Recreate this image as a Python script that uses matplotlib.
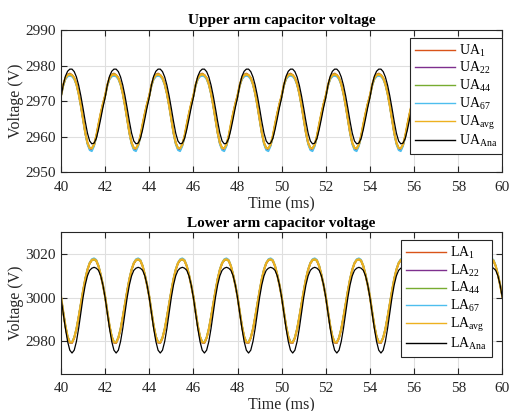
import numpy as np
import matplotlib
matplotlib.use('Agg')
import matplotlib.pyplot as plt

plt.rcParams['font.family'] = 'Liberation Serif'
plt.rcParams['mathtext.fontset'] = 'custom'
plt.rcParams['mathtext.rm'] = 'Liberation Serif'
plt.rcParams['mathtext.it'] = 'Liberation Serif:italic'
plt.rcParams['mathtext.bf'] = 'Liberation Serif:bold'

# ---------------- data (one 2 ms cycle, 0.1 ms steps) ----------------
t_start = 40.0
dt = 0.1
n_cycles = 10

# upper arm
UA_1   = [2971.6, 2974.6, 2976.6, 2977.5, 2977.8, 2977.4, 2976.6, 2974.9, 2972.3, 2968.9,
          2965.0, 2961.1, 2958.2, 2956.8, 2956.5, 2957.7, 2960.1, 2963.4, 2966.5, 2969.3]
UA_22  = [2971.4, 2974.3, 2976.2, 2977.0, 2977.3, 2977.2, 2976.4, 2974.7, 2972.1, 2968.7,
          2964.9, 2961.0, 2958.1, 2956.5, 2956.3, 2957.6, 2960.0, 2963.3, 2966.4, 2969.1]
UA_44  = [2971.5, 2974.5, 2976.4, 2977.4, 2977.6, 2977.3, 2976.5, 2974.8, 2972.2, 2968.8,
          2965.0, 2961.2, 2958.3, 2956.9, 2956.8, 2957.8, 2960.2, 2963.5, 2966.5, 2969.2]
UA_67  = [2971.3, 2974.2, 2976.1, 2976.9, 2977.1, 2976.9, 2976.1, 2974.5, 2971.9, 2968.5,
          2964.6, 2960.8, 2957.8, 2956.2, 2955.9, 2957.3, 2959.8, 2963.1, 2966.2, 2968.9]
UA_avg = [2971.5, 2974.5, 2976.5, 2977.3, 2977.5, 2977.3, 2976.5, 2974.8, 2972.2, 2968.8,
          2965.0, 2961.2, 2958.3, 2956.8, 2956.7, 2957.8, 2960.2, 2963.5, 2966.5, 2969.2]
UA_ana = [2971.0, 2974.5, 2977.0, 2978.4, 2979.0, 2979.0, 2978.3, 2976.8, 2974.5, 2971.5,
          2968.0, 2964.3, 2961.0, 2958.8, 2958.0, 2958.2, 2959.5, 2962.0, 2965.0, 2968.2]

# lower arm
LA_1   = [3000.5, 2993.5, 2987.0, 2982.0, 2979.4, 2979.2, 2981.5, 2985.5, 2991.0, 2997.0,
          3003.0, 3008.5, 3012.8, 3015.8, 3017.3, 3017.7, 3017.0, 3014.5, 3010.5, 3005.8]
LA_22  = [3000.4, 2993.4, 2986.9, 2981.9, 2979.2, 2979.1, 2981.4, 2985.4, 2990.9, 2996.9,
          3002.9, 3008.4, 3012.7, 3015.7, 3017.2, 3017.8, 3016.9, 3014.4, 3010.4, 3005.7]
LA_44  = [3000.5, 2993.5, 2987.0, 2982.1, 2979.5, 2979.4, 2981.6, 2985.6, 2991.1, 2997.1,
          3003.0, 3008.5, 3012.8, 3015.7, 3017.1, 3017.4, 3016.8, 3014.4, 3010.5, 3005.8]
LA_67  = [3000.7, 2993.7, 2987.2, 2982.3, 2979.7, 2979.6, 2981.8, 2985.8, 2991.3, 2997.3,
          3003.3, 3008.8, 3013.1, 3016.1, 3017.7, 3018.1, 3017.4, 3014.8, 3010.8, 3006.0]
LA_avg = [3000.5, 2993.5, 2987.0, 2982.0, 2979.4, 2979.3, 2981.5, 2985.5, 2991.0, 2997.0,
          3003.0, 3008.5, 3012.8, 3015.8, 3017.3, 3017.6, 3017.0, 3014.5, 3010.5, 3005.8]
LA_ana = [3000.0, 2993.0, 2985.8, 2979.8, 2975.8, 2974.5, 2975.8, 2979.8, 2985.8, 2993.0,
          3000.0, 3005.8, 3010.0, 3012.5, 3013.5, 3013.9, 3013.5, 3012.5, 3010.0, 3005.8]

upper_series = [UA_1, UA_22, UA_44, UA_67, UA_avg, UA_ana]
lower_series = [LA_1, LA_22, LA_44, LA_67, LA_avg, LA_ana]
sub_labels = ['1', '22', '44', '67', 'avg', 'Ana']

# MATLAB default colours
colors = ['#D95319', '#7E2F8E', '#77AC30', '#4DBEEE', '#EDB120', '#000000']
widths = [1.2, 1.2, 1.2, 1.2, 1.6, 0.9]

axis_color = '#262626'
grid_color = '#dfdfdf'
tick_labelsize = 11
label_fontsize = 11.5
title_fontsize = 11
legend_fontsize = 10


def full_series(cycle):
    cycle = np.asarray(cycle)
    return np.concatenate([np.tile(cycle, n_cycles), cycle[:1]])


t = t_start + np.arange(len(UA_1) * n_cycles + 1) * dt

fig = plt.figure(figsize=(5.09, 4.11), dpi=100)
ax1 = fig.add_axes([0.1198, 0.5808, 0.8671, 0.3462])
ax2 = fig.add_axes([0.1198, 0.0908, 0.8671, 0.3440])


def style_axis(ax, title, ylim, yticks):
    ax.set_xlim(40, 60)
    ax.set_ylim(*ylim)
    ax.set_xticks(np.arange(40, 61, 2))
    ax.set_yticks(yticks)
    ax.grid(True, color=grid_color, linewidth=0.8)
    ax.set_axisbelow(True)
    for s in ax.spines.values():
        s.set_color(axis_color)
        s.set_linewidth(0.8)
    ax.tick_params(axis='both', which='major', direction='in', length=4, width=0.8,
                   labelsize=tick_labelsize, colors=axis_color,
                   top=True, right=True, pad=4)
    ax.tick_params(axis='x', pad=6)
    ax.set_xlabel('Time (ms)', fontsize=label_fontsize, color=axis_color, labelpad=2)
    ax.set_ylabel('Voltage (V)', fontsize=label_fontsize, color=axis_color, labelpad=1)
    ax.set_title(title, fontsize=title_fontsize, fontweight='bold', pad=4)


for series, sub, c, w in zip(upper_series, sub_labels, colors, widths):
    ax1.plot(t, full_series(series), color=c, linewidth=w, label=r'UA$_{\mathrm{%s}}$' % sub)
for series, sub, c, w in zip(lower_series, sub_labels, colors, widths):
    ax2.plot(t, full_series(series), color=c, linewidth=w, label=r'LA$_{\mathrm{%s}}$' % sub)

style_axis(ax1, 'Upper arm capacitor voltage', (2950, 2990), np.arange(2950, 2991, 10))
style_axis(ax2, 'Lower arm capacitor voltage', (2965, 3030), [2980, 3000, 3020])

for ax, anchor in [(ax1, (1.0, 0.946)), (ax2, (0.9766, 0.9455))]:
    leg = ax.legend(fontsize=legend_fontsize, loc='upper right', bbox_to_anchor=anchor,
                    borderaxespad=0, fancybox=False, framealpha=1, handlelength=2.9,
                    labelspacing=0.12, handletextpad=0.3, borderpad=0.35)
    leg.get_frame().set_edgecolor(axis_color)
    leg.get_frame().set_linewidth(0.8)
    for line in leg.get_lines():
        line.set_linewidth(1.0)

fig.savefig('out.png', dpi=100)
